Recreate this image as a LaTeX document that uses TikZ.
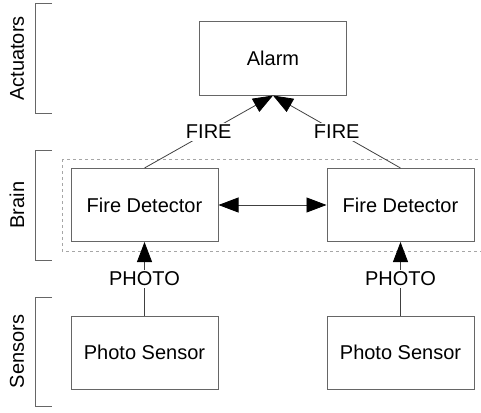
\documentclass[tikz,border=0pt]{standalone}
\usepackage{fontspec}
\setmainfont{Liberation Sans}
\usetikzlibrary{arrows.meta}
\begin{document}
\begin{tikzpicture}[x=1pt, y=-1pt, font=\fontsize{20}{24}\selectfont,
  unit/.style={shape=rectangle, draw=black!60, line width=1pt, minimum width=147pt, minimum height=73pt, inner sep=0pt},
  layer/.style={rotate=90, inner sep=0pt},
  bracket/.style={draw=black!60, line width=1pt},
  signal/.style={fill=white, inner sep=2pt},
  head/.tip={Triangle[length=20pt, width=15pt, color=black]},
  flow/.style={line width=0.8pt, draw=black!75, -head}] 
\useasboundingbox (0,0) rectangle (481,412);
% layers
\node[layer] (actuators) at (17,58.5) {Actuators};
\node[layer] (brain) at (17,205) {Brain};
\node[layer] (sensors) at (17,351.5) {Sensors};
\draw[bracket] (52,4) -- (35,4) -- (35,113) -- (52,113);
\draw[bracket] (52,150) -- (35,150) -- (35,260) -- (52,260);
\draw[bracket] (52,297) -- (35,297) -- (35,406) -- (52,406);
\begin{scope}
\clip (0,0) rectangle (481,412);
\draw[black!35, dashed, line width=0.8pt] (62,159) rectangle (490,251);
\end{scope}
% units
\node[unit] (alarm) at (273,58.5) {Alarm};
\node[unit] (fdL) at (144.5,205) {Fire Detector};
\node[unit] (fdR) at (400.5,205) {Fire Detector};
\node[unit] (psL) at (144.5,352.5) {Photo Sensor};
\node[unit] (psR) at (400.5,352.5) {Photo Sensor};
% signals
\draw [flow] (fdL.north) -- node[signal] {FIRE} (alarm.south);
\draw [flow] (fdR.north) -- node[signal] {FIRE} (alarm.south);
\draw [flow] (psL.north) -- node[signal] {PHOTO} (fdL.south);
\draw [flow] (psR.north) -- node[signal] {PHOTO} (fdR.south);
\draw [flow, head-head] (fdL) -- (fdR);
\end{tikzpicture}
\end{document}
